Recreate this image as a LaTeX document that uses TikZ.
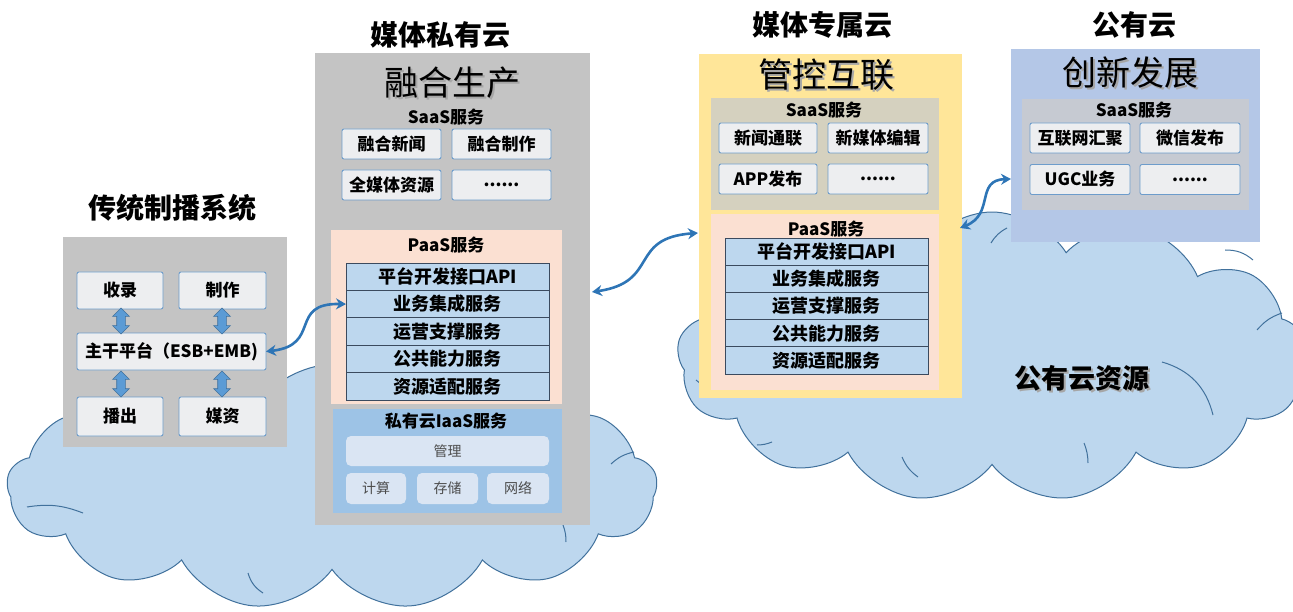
\documentclass[tikz,border=0pt]{standalone}
\usepackage{fontspec}
\setmainfont{Noto Sans CJK SC}
\usetikzlibrary{shapes.symbols,shapes.arrows,arrows.meta}
\definecolor{cloudfill}{HTML}{BDD7EE}
\definecolor{cloudline}{HTML}{41719C}
\definecolor{grayboxc}{HTML}{C4C4C4}
\definecolor{yellowc}{HTML}{FFE699}
\definecolor{pinkc}{HTML}{FBE0D2}
\definecolor{rowc}{HTML}{BDD7EE}
\definecolor{rowline}{HTML}{3B4A5E}
\definecolor{iaasc}{HTML}{9DC3E6}
\definecolor{iaasbox}{HTML}{DAE5F3}
\definecolor{pubc}{HTML}{B4C7E7}
\definecolor{pubsaas}{HTML}{C6CAD2}
\definecolor{dedsaas}{HTML}{D5D1BF}
\definecolor{wboxc}{HTML}{EDEEF0}
\definecolor{wboxline}{HTML}{6D9CCB}
\definecolor{connc}{HTML}{2E75B6}
\definecolor{dblc}{HTML}{5B9BD5}
\begin{document}
\begin{tikzpicture}[x=1pt,y=-1pt,
  every node/.style={inner sep=0pt, outer sep=0pt},
  cloudshape/.style={cloud, cloud puffs=13, cloud puff arc=115, fill=cloudfill, draw=cloudline, line width=1pt},
  inarc/.style={draw=cloudline, line width=1pt},
  area/.style={rectangle, draw=none},
  wbox/.style={rectangle, rounded corners=2pt, fill=wboxc, draw=wboxline, line width=0.9pt, font=\bfseries\fontsize{17}{19}\selectfont},
  row/.style={rectangle, fill=rowc, draw=rowline, line width=0.8pt, minimum height=27.3, font=\bfseries\fontsize{18}{20}\selectfont},
  ibox/.style={rectangle, rounded corners=5pt, fill=iaasbox, draw=none, text=black!70, font=\fontsize{14}{16}\selectfont},
  title/.style={font=\bfseries\fontsize{28}{30}\selectfont},
  big/.style={font=\fontsize{34}{36}\selectfont},
  sub/.style={font=\bfseries\fontsize{17}{19}\selectfont},
  dbl/.style={double arrow, rotate=90, fill=dblc, draw=cloudline, line width=0.6pt, minimum height=26, inner xsep=0pt, inner ysep=4pt, double arrow head extend=4pt, double arrow head indent=0pt},
  conn/.style={draw=connc, line width=2.6pt, {Stealth[length=10pt,width=11pt]}-{Stealth[length=10pt,width=11pt]}},
]
\useasboundingbox (0,0) rectangle (1293,612);
% clouds
\node[cloudshape, minimum width=650, minimum height=245] (cloudL) at (332,487) {};
\node[cloudshape, minimum width=630, minimum height=290] (cloudR) at (992,357) {};
% inner arcs of the clouds
\draw[inarc] (27,507) to[bend left=15] (83,513);
\draw[inarc] (248,573) to[bend right=20] (263,593);
\draw[inarc] (563,525) to[bend left=10] (566,542);
\draw[inarc] (611,464) to[bend left=15] (634,452);
\draw[inarc] (991,243) to[bend left=15] (1007,228);
\draw[inarc] (1225,250) to[bend left=20] (1253,260);
\draw[inarc] (1257,330) to[bend left=15] (1282,313);
\draw[inarc] (1162,362) to[bend left=30] (1213,415);
\draw[inarc] (1084,443) to[bend left=10] (1088,463);
\draw[inarc] (902,457) to[bend right=15] (918,477);
\draw[inarc] (757,445) to[bend right=10] (772,442);
\draw[inarc] (696,380) to[bend right=15] (712,388);
\node[font=\bfseries\fontsize{27}{29}\selectfont, text=black!35] at (1084,380) {公有云资源};
\node[font=\bfseries\fontsize{27}{29}\selectfont] (pubres) at (1082,378) {公有云资源};

% ---------- traditional ----------
\node[title] (ttrad) at (172,208) {传统制播系统};
\node[area, fill=grayboxc, minimum width=224, minimum height=210] (trad) at (175,342) {};
\node[wbox, minimum width=86, minimum height=37] (shoulu) at (120,290.5) {收录};
\node[wbox, minimum width=87, minimum height=37] (zhizuo) at (222.5,290.5) {制作};
\node[wbox, minimum width=189, minimum height=37] (trunk) at (171.5,351.5) {主干平台（ESB+EMB)};
\node[wbox, minimum width=86, minimum height=39] (bochu) at (120,416.5) {播出};
\node[wbox, minimum width=87, minimum height=39] (meizi) at (222.5,416.5) {媒资};
\node[dbl] (d1) at (121,321) {};
\node[dbl] (d2) at (222,321) {};
\node[dbl] (d3) at (121,384) {};
\node[dbl] (d4) at (222,384) {};

% ---------- private cloud ----------
\node[title] (tpriv) at (440,35) {媒体私有云};
\node[area, fill=grayboxc, minimum width=275, minimum height=472] (priv) at (452.5,289) {};
\node[big, text=black!35] at (454,85) {融合生产};
\node[big] (rhsc) at (452,83) {融合生产};
\node[sub] (psaas) at (446,117) {SaaS服务};
\node[wbox, minimum width=99, minimum height=30] (p1) at (391.5,144) {融合新闻};
\node[wbox, minimum width=99, minimum height=30] (p2) at (501.5,144) {融合制作};
\node[wbox, minimum width=99, minimum height=30] (p3) at (391.5,185) {全媒体资源};
\node[wbox, minimum width=99, minimum height=30] (p4) at (501.5,185) {......};
\node[area, fill=pinkc, minimum width=231, minimum height=174] (ppaas) at (446.5,317) {};
\node[sub] (ppaast) at (446,245) {PaaS服务};
\node[row, minimum width=203] (pr1) at (447.5,276.7) {平台开发接口API};
\node[row, minimum width=203] (pr2) at (447.5,304.1) {业务集成服务};
\node[row, minimum width=203] (pr3) at (447.5,331.5) {运营支撑服务};
\node[row, minimum width=203] (pr4) at (447.5,358.9) {公共能力服务};
\node[row, minimum width=203] (pr5) at (447.5,386.3) {资源适配服务};
\node[area, fill=iaasc, minimum width=229, minimum height=104] (piaas) at (447.5,461) {};
\node[sub] (piaast) at (446,421) {私有云IaaS服务};
\node[ibox, minimum width=203, minimum height=30] (mgmt) at (447.5,451) {管理};
\node[ibox, minimum width=60, minimum height=31] (calc) at (376,488.5) {计算};
\node[ibox, minimum width=61, minimum height=31] (stor) at (447.5,488.5) {存储};
\node[ibox, minimum width=62, minimum height=31] (net) at (518,488.5) {网络};

% ---------- dedicated cloud ----------
\node[title] (tded) at (822,25) {媒体专属云};
\node[area, fill=yellowc, minimum width=263, minimum height=344] (ded) at (830.5,226) {};
\node[big, text=black!35] at (828,77) {管控互联};
\node[big] (gkhl) at (826,75) {管控互联};
\node[area, fill=dedsaas, minimum width=228, minimum height=112] (dsaas) at (825,154) {};
\node[sub] (dsaast) at (824,110) {SaaS服务};
\node[wbox, minimum width=98, minimum height=30] (q1) at (768,138) {新闻通联};
\node[wbox, minimum width=100, minimum height=30] (q2) at (878,138) {新媒体编辑};
\node[wbox, minimum width=98, minimum height=30] (q3) at (768,179) {APP发布};
\node[wbox, minimum width=100, minimum height=30] (q4) at (878,179) {......};
\node[area, fill=pinkc, minimum width=228, minimum height=176] (dpaas) at (825,302) {};
\node[sub] (dpaast) at (826,229) {PaaS服务};
\node[row, minimum width=203, minimum height=27.2] (dr1) at (826.5,251.6) {平台开发接口API};
\node[row, minimum width=203, minimum height=27.2] (dr2) at (826.5,278.8) {业务集成服务};
\node[row, minimum width=203, minimum height=27.2] (dr3) at (826.5,306) {运营支撑服务};
\node[row, minimum width=203, minimum height=27.2] (dr4) at (826.5,333.2) {公共能力服务};
\node[row, minimum width=203, minimum height=27.2] (dr5) at (826.5,360.4) {资源适配服务};

% ---------- public cloud ----------
\node[title] (tpub) at (1134,25) {公有云};
\node[area, fill=pubc, minimum width=249, minimum height=193] (pub) at (1135.5,145.5) {};
\node[big, text=black!35] at (1132,75) {创新发展};
\node[big] (cxfz) at (1130,73) {创新发展};
\node[area, fill=pubsaas, minimum width=227, minimum height=111] (usaas) at (1135.5,154.5) {};
\node[sub] (usaast) at (1134,110) {SaaS服务};
\node[wbox, minimum width=100, minimum height=30] (u1) at (1080,138) {互联网汇聚};
\node[wbox, minimum width=100, minimum height=30] (u2) at (1190,138) {微信发布};
\node[wbox, minimum width=100, minimum height=30] (u3) at (1080,179.5) {UGC业务};
\node[wbox, minimum width=100, minimum height=30] (u4) at (1190,179.5) {......};

% ---------- connectors ----------
\draw[conn] (trunk.east) .. controls (322,345) and (288,303) .. (pr2.west);
\coordinate (c2a) at (592,292);
\coordinate (c2b) at (698,233);
\draw[conn] (c2a) .. controls (660,282) and (628,238) .. (c2b);
\coordinate (c3a) at (960,228);
\coordinate (c3b) at (1011,179);
\draw[conn] (c3a) .. controls (995,214) and (975,180) .. (c3b);
\end{tikzpicture}
\end{document}
